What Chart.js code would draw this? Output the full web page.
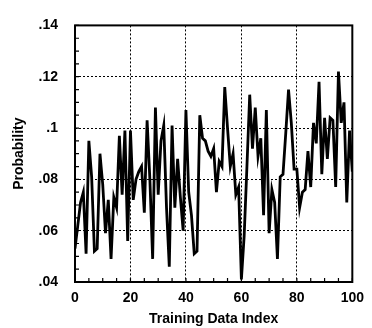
<!DOCTYPE html>
<html>
<head>
<meta charset="utf-8">
<script src="https://cdn.jsdelivr.net/npm/chart.js@4.4.1/dist/chart.umd.min.js"></script>
<style>
  html, body { margin: 0; padding: 0; background: #fff; }
  #wrap { width: 372px; height: 328px; }
</style>
</head>
<body>
<div id="wrap"><canvas id="chart" width="372" height="328"></canvas></div>
<script>
// data
const probability = [
  0.053, 0.062, 0.071, 0.075, 0.051, 0.095, 0.081, 0.052, 0.053, 0.090,
  0.078, 0.059, 0.072, 0.049, 0.073, 0.069, 0.097, 0.074, 0.099, 0.056,
  0.099, 0.072, 0.080, 0.083, 0.085, 0.067, 0.103, 0.080, 0.049, 0.108,
  0.074, 0.095, 0.101, 0.069, 0.046, 0.101, 0.069, 0.088, 0.073, 0.060,
  0.107, 0.075, 0.066, 0.051, 0.052, 0.105, 0.096, 0.095, 0.091, 0.089,
  0.092, 0.075, 0.087, 0.085, 0.116, 0.100, 0.085, 0.090, 0.074, 0.077,
  0.041, 0.058, 0.085, 0.113, 0.092, 0.108, 0.089, 0.096, 0.066, 0.107,
  0.059, 0.076, 0.071, 0.049, 0.081, 0.082, 0.098, 0.115, 0.102, 0.084,
  0.084, 0.069, 0.075, 0.076, 0.091, 0.077, 0.102, 0.094, 0.118, 0.082,
  0.104, 0.088, 0.104, 0.103, 0.077, 0.122, 0.102, 0.110, 0.071, 0.099,
  0.083
];
const xTickValues = [0, 20, 40, 60, 80, 100];
const yTickValues = [0.04, 0.06, 0.08, 0.1, 0.12, 0.14];
const yTickLabels = ['.04', '.06', '.08', '.1', '.12', '.14'];

const points = probability.map((v, i) => ({ x: i, y: v }));

const font = { family: "'Liberation Sans', Arial, sans-serif", size: 14, weight: 'bold' };

// small inward ticks on left and bottom axes, plus the frame
const minorTicks = {
  id: 'minorTicks',
  afterDraw(chart) {
    const ctx = chart.ctx;
    const xs = chart.scales.x, ys = chart.scales.y;
    const a = chart.chartArea;
    ctx.save();
    ctx.strokeStyle = '#000';
    ctx.lineWidth = 1.2;
    ctx.beginPath();
    for (let v = 0; v <= 100; v += 5) {
      const px = xs.getPixelForValue(v);
      ctx.moveTo(px, a.bottom);
      ctx.lineTo(px, a.bottom - 4);
    }
    for (let v = 0.04; v <= 0.1401; v += 0.005) {
      const py = ys.getPixelForValue(v);
      ctx.moveTo(a.left, py);
      ctx.lineTo(a.left + 4, py);
    }
    ctx.stroke();
    ctx.lineWidth = 2;
    ctx.strokeRect(a.left, a.top, a.right - a.left, a.bottom - a.top);
    ctx.restore();
  }
};

new Chart(document.getElementById('chart'), {
  type: 'line',
  data: {
    datasets: [{
      data: points,
      borderColor: '#000',
      borderWidth: 2.8,
      pointRadius: 0,
      tension: 0,
      fill: false
    }]
  },
  options: {
    responsive: false,
    animation: false,
    layout: { padding: { top: 14, right: 15, left: 0, bottom: 0 } },
    plugins: { legend: { display: false }, tooltip: { enabled: false } },
    scales: {
      x: {
        type: 'linear',
        min: 0,
        max: 100,
        afterBuildTicks: s => { s.ticks = xTickValues.map(v => ({ value: v })); },
        afterFit: s => { s.height = 46; },
        grid: { color: '#000', lineWidth: 1, drawTicks: false },
        border: { display: false, dash: [2, 2] },
        ticks: { color: '#000', font: font, padding: 8, maxRotation: 0 },
        title: { display: true, text: 'Training Data Index', color: '#000', font: font, padding: { top: 0, bottom: 0 } }
      },
      y: {
        min: 0.04,
        max: 0.14,
        afterBuildTicks: s => { s.ticks = yTickValues.map(v => ({ value: v })); },
        afterFit: s => { s.width = 75; },
        grid: { color: '#000', lineWidth: 1, drawTicks: false },
        border: { display: false, dash: [2, 2] },
        ticks: {
          color: '#000', font: font, padding: 17,
          callback: (v) => yTickLabels[yTickValues.findIndex(t => Math.abs(t - v) < 1e-6)]
        },
        title: { display: true, text: 'Probability', color: '#000', font: font, padding: { top: 11, bottom: 0 } }
      }
    }
  },
  plugins: [minorTicks]
});
</script>
</body>
</html>
